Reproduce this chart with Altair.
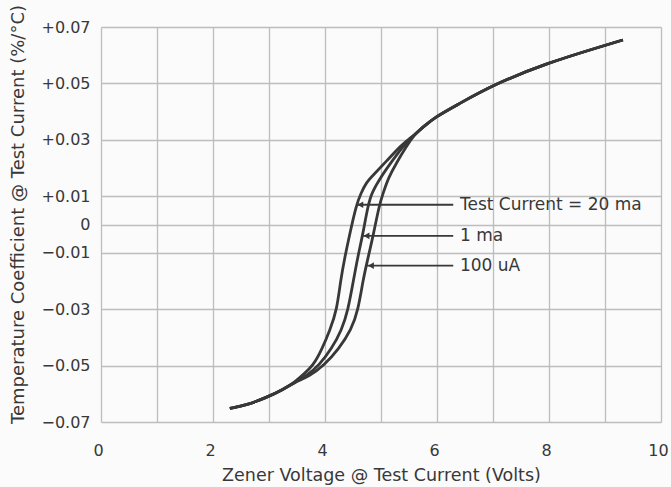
import altair as alt
import pandas as pd

# ---- data ----
lower_x = [2.30, 2.60, 2.96, 3.25, 3.45]
lower_y = [-0.0652, -0.0640, -0.0613, -0.0585, -0.0560]

c20_x = [3.62, 3.79, 3.95, 4.09, 4.21, 4.28, 4.35, 4.44, 4.56, 4.64, 4.74, 4.86, 5.10, 5.37]
c20_y = [-0.0530, -0.0500, -0.0440, -0.0373, -0.0305, -0.0196, -0.0120, -0.0035, 0.0070, 0.0110, 0.0150, 0.0175, 0.0225, 0.0283]

c1_x = [3.68, 3.89, 4.12, 4.30, 4.41, 4.51, 4.58, 4.67, 4.77, 4.84, 5.00, 5.18, 5.41]
c1_y = [-0.0535, -0.0500, -0.0440, -0.0373, -0.0305, -0.0196, -0.0120, -0.0040, 0.0070, 0.0115, 0.0169, 0.0220, 0.0282]

c100_x = [3.72, 3.98, 4.25, 4.47, 4.59, 4.68, 4.76, 4.86, 4.97, 5.04, 5.13, 5.28, 5.45]
c100_y = [-0.0538, -0.0500, -0.0440, -0.0373, -0.0305, -0.0196, -0.0125, -0.0040, 0.0070, 0.0112, 0.0165, 0.0220, 0.0275]

upper_x = [5.58, 5.75, 5.96, 6.36, 7.00, 7.96, 8.95, 9.32]
upper_y = [0.0315, 0.0345, 0.0380, 0.0424, 0.0495, 0.0572, 0.0632, 0.0654]

series_names = ["20 ma", "1 ma", "100 uA"]

ann_labels = ["Test Current = 20 ma", "1 ma", "100 uA"]
ann_y = [0.0070, -0.0040, -0.0146]
ann_tip_x = [4.56, 4.67, 4.75]
ann_tail_x = [6.29, 6.29, 6.29]
ann_text_x = [6.41, 6.41, 6.41]

x_ticks = list(range(0, 11))
y_ticks = [-0.07, -0.05, -0.03, -0.01, 0, 0.01, 0.03, 0.05, 0.07]

# ---- build tables ----
rows = []
for name, mx, my in zip(series_names, [c20_x, c1_x, c100_x], [c20_y, c1_y, c100_y]):
    xs = lower_x + mx + upper_x
    ys = lower_y + my + upper_y
    for i, (a, b) in enumerate(zip(xs, ys)):
        rows.append({"series": name, "idx": i, "x": a, "y": b})
df = pd.DataFrame(rows)

ann = pd.DataFrame({
    "label": ann_labels, "y": ann_y, "tip": ann_tip_x,
    "tail": ann_tail_x, "tx": ann_text_x,
})

ink = "#383838"
FONT = "DejaVu Sans"
xscale = alt.Scale(domain=[0, 10], nice=False, zero=False)
yscale = alt.Scale(domain=[-0.07, 0.07], nice=False, zero=False)

xaxis = alt.Axis(
    values=x_ticks,
    labelExpr="datum.value % 2 == 0 ? datum.label : ''",
    labelFlush=False, labelOffset=-3,
    grid=True, gridColor="#bdbdbd", gridWidth=1.3,
    domain=False, ticks=False,
    labelPadding=20, labelFontSize=16, labelColor=ink, labelFont=FONT,
    title="Zener Voltage @ Test Current (Volts)",
    titleFontSize=17.5, titleFontWeight="normal", titleColor=ink, titleFont=FONT,
    titleY=58, titleBaseline="alphabetic",
)
yaxis = alt.Axis(
    values=y_ticks,
    labelExpr="datum.value == 0 ? '0' : (datum.value > 0 ? '+' : '\u2212') + format(abs(datum.value), '.2f')",
    labelFlush=False,
    grid=True, gridColor="#bdbdbd", gridWidth=1.3,
    domain=False, ticks=False,
    labelPadding=11, labelFontSize=16, labelColor=ink, labelFont=FONT,
    title="Temperature Coefficient @ Test Current (%/\u00b0C)",
    titleFontSize=18, titleFontWeight="normal", titleColor=ink, titleFont=FONT,
    titleX=-83, titleY=187, titleBaseline="middle", titleAlign="center", titleAngle=270,
)

lines = alt.Chart(df).mark_line(
    interpolate="basis", strokeWidth=2.8, color=ink
).encode(
    x=alt.X("x:Q", scale=xscale, axis=xaxis),
    y=alt.Y("y:Q", scale=yscale, axis=yaxis),
    detail="series:N",
    order="idx:Q",
)

rules = alt.Chart(ann).mark_rule(strokeWidth=1.8, color=ink).encode(
    x=alt.X("tip:Q", scale=xscale, axis=xaxis),
    x2="tail:Q",
    y=alt.Y("y:Q", scale=yscale, axis=yaxis),
)

heads = alt.Chart(ann).mark_point(
    shape="triangle-left", filled=True, size=45, xOffset=4, opacity=1, color=ink
).encode(
    x=alt.X("tip:Q", scale=xscale, axis=xaxis),
    y=alt.Y("y:Q", scale=yscale, axis=yaxis),
)

texts = alt.Chart(ann).mark_text(
    align="left", baseline="middle", fontSize=17, font=FONT, color=ink
).encode(
    x=alt.X("tx:Q", scale=xscale, axis=xaxis),
    y=alt.Y("y:Q", scale=yscale, axis=yaxis),
    text="label:N",
)

chart = alt.layer(lines, rules, heads, texts).properties(
    width=560, height=395,
    autosize=alt.AutoSizeParams(type="none"),
    padding={"left": 101, "top": 27, "right": 10, "bottom": 65},
    background="#fbfbfb",
).configure_view(stroke=None)

chart.save("out.html", embed_options={"renderer": "svg", "actions": False})
